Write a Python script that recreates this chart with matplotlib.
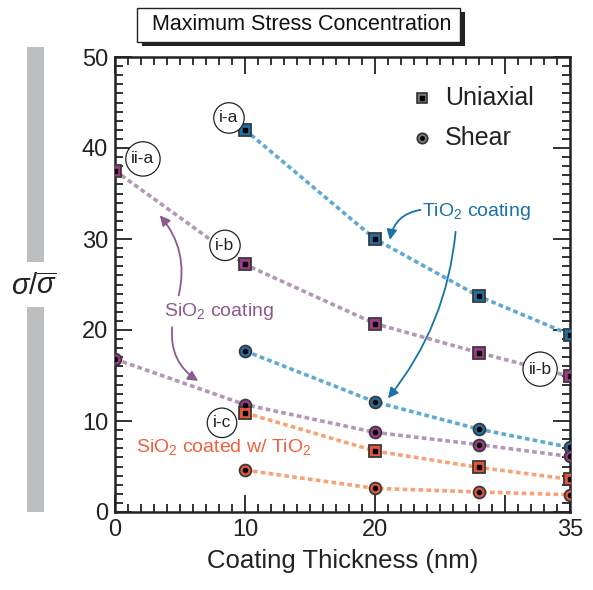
import matplotlib
matplotlib.use("Agg")
import matplotlib.pyplot as plt
from matplotlib.patches import Rectangle

plt.rcParams['font.family'] = ['Liberation Sans', 'DejaVu Sans']
plt.rcParams['mathtext.fontset'] = 'custom'
plt.rcParams['mathtext.rm'] = 'Liberation Sans'
plt.rcParams['mathtext.it'] = 'Liberation Sans:italic'

# data
thickness_tio2 = [10, 20, 28, 35]
tio2_uniaxial = [42.0, 30.0, 23.7, 19.5]
tio2_shear = [17.7, 12.1, 9.1, 7.1]

thickness_sio2 = [0, 10, 20, 28, 35]
sio2_uniaxial = [37.5, 27.2, 20.7, 17.5, 14.9]
sio2_shear = [16.8, 11.8, 8.75, 7.4, 6.1]

thickness_both = [10, 20, 28, 35]
both_uniaxial = [10.9, 6.7, 4.9, 3.6]
both_shear = [4.6, 2.6, 2.2, 1.9]

W, H = 593, 590
fig = plt.figure(figsize=(W / 100, H / 100), dpi=100)
ax = fig.add_axes([115 / W, 1 - 512 / H, 455 / W, 455 / H])


def px(x, y):
    return (x / W, 1 - y / H)


def series(x, y, line_c, face_c, marker):
    ax.plot(x, y, linestyle=(0, (1.3, 0.9)), lw=2.6, color=line_c, zorder=2)
    ax.plot(x, y, linestyle='none', marker=marker, ms=8 if marker == 's' else 8.5,
            mfc=face_c, mec='#3a3a3a', mew=1.3, zorder=3)
    ax.plot(x, y, linestyle='none', marker=marker, ms=3, mfc='black', mec='black', zorder=4)


blue_line, blue_face = '#5eaad0', '#1f70a8'
purple_line, purple_face = '#b496b6', '#a2388c'
orange_line, orange_face = '#f7a373', '#e8563a'

series(thickness_tio2, tio2_uniaxial, blue_line, blue_face, 's')
series(thickness_tio2, tio2_shear, blue_line, blue_face, 'o')
series(thickness_sio2, sio2_uniaxial, purple_line, purple_face, 's')
series(thickness_sio2, sio2_shear, purple_line, purple_face, 'o')
series(thickness_both, both_uniaxial, orange_line, orange_face, 's')
series(thickness_both, both_shear, orange_line, orange_face, 'o')

ax.set_xlim(0, 35)
ax.set_ylim(0, 50)
ax.set_xticks([0, 10, 20, 30, 35])
ax.set_xticklabels(['0', '10', '20', '', '35'])
ax.set_xticks(range(0, 36), minor=True)
ax.set_yticks(range(0, 51, 10))
ax.set_yticks(range(0, 51), minor=True)
ax.tick_params(which='both', direction='in', top=True, right=True, width=1.3, colors='#222')
ax.tick_params(which='major', length=12, labelsize=17, pad=5)
ax.tick_params(which='minor', length=6)
for s in ax.spines.values():
    s.set_linewidth(1.8)
    s.set_color('#222')
ax.set_xlabel('Coating Thickness (nm)', fontsize=18.5, labelpad=6, color='#222')

# legend drawn by hand
ax.plot([23.6], [45.5], marker='s', ms=7, mfc='#777', mec='#333', mew=1.2)
ax.plot([23.6], [45.5], marker='s', ms=2.5, mfc='black', mec='black')
ax.plot([23.6], [41.1], marker='o', ms=7.5, mfc='#777', mec='#333', mew=1.2)
ax.plot([23.6], [41.1], marker='o', ms=2.5, mfc='black', mec='black')
ax.text(25.4, 45.5, 'Uniaxial', fontsize=18, va='center', color='#222')
ax.text(25.4, 41.1, 'Shear', fontsize=18, va='center', color='#222')

# circled case labels
for lbl, x, y in [('i-a', 8.77, 43.3), ('ii-a', 2.15, 38.8), ('i-b', 8.46, 29.3),
                  ('ii-b', 32.7, 15.7), ('i-c', 8.23, 9.8)]:
    ax.text(x, y, lbl, fontsize=12.5, ha='center', va='center', color='#222', zorder=5,
            bbox=dict(boxstyle='circle,pad=0.32', fc='white', ec='#222', lw=0.9))

# annotations
ax.text(23.6, 33.0, r'TiO$_2$ coating', fontsize=14, color='#1a72a6', va='center')
ax.annotate('', xy=(21.15, 29.9), xytext=(23.5, 33.2),
            arrowprops=dict(arrowstyle='-|>,head_width=0.3,head_length=0.6', color='#1a72a6',
                            lw=1.3, connectionstyle='arc3,rad=0.35', shrinkA=0, shrinkB=0))
ax.annotate('', xy=(21.0, 12.5), xytext=(26.2, 30.8),
            arrowprops=dict(arrowstyle='-|>,head_width=0.3,head_length=0.6', color='#1a72a6',
                            lw=1.3, connectionstyle='arc3,rad=-0.15', shrinkA=0, shrinkB=0))

ax.text(8.0, 22.0, r'SiO$_2$ coating', fontsize=14, color='#8c5a8e', ha='center', va='center')
ax.annotate('', xy=(3.45, 32.6), xytext=(4.9, 23.8),
            arrowprops=dict(arrowstyle='-|>,head_width=0.3,head_length=0.6', color='#8c5a8e',
                            lw=1.3, connectionstyle='arc3,rad=0.25', shrinkA=0, shrinkB=0))
ax.annotate('', xy=(6.4, 14.4), xytext=(4.4, 20.3),
            arrowprops=dict(arrowstyle='-|>,head_width=0.3,head_length=0.6', color='#8c5a8e',
                            lw=1.3, connectionstyle='arc3,rad=0.3', shrinkA=0, shrinkB=0))

ax.text(8.4, 7.1, r'SiO$_2$ coated w/ TiO$_2$', fontsize=14, color='#f0603f',
        ha='center', va='center')

# y label with grey bars
fig.patches.append(Rectangle(px(27, 262), 17 / W, 215 / H, transform=fig.transFigure,
                             fc='#bdbec0', ec='none'))
fig.patches.append(Rectangle(px(27, 512), 17 / W, 205 / H, transform=fig.transFigure,
                             fc='#bdbec0', ec='none'))
fig.text(*px(34, 287), r'$\sigma/\overline{\sigma}$', fontsize=21, ha='center', va='center',
         color='#222')

# boxed title with shadow
fig.patches.append(Rectangle(px(142, 46), 323 / W, 34 / H, transform=fig.transFigure,
                             fc='#222', ec='none'))
fig.patches.append(Rectangle(px(137, 42), 323 / W, 34 / H, transform=fig.transFigure,
                             fc='white', ec='#222', lw=1.0))
fig.text(*px(302, 25), 'Maximum Stress Concentration', fontsize=15.5, ha='center',
         va='center', color='#111')

fig.savefig('out.png', dpi=100)
